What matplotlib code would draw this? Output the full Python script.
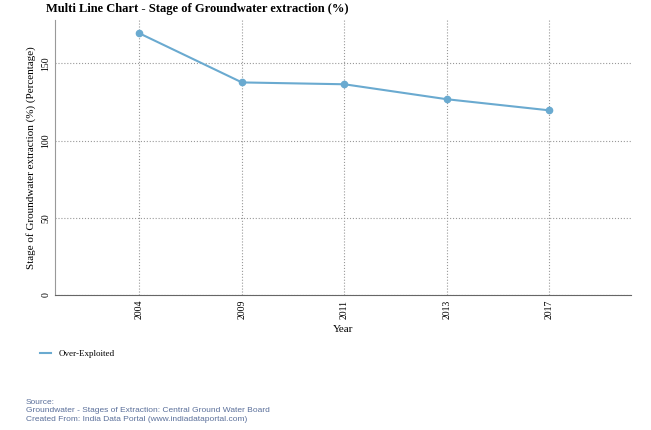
import matplotlib.pyplot as plt
from matplotlib.lines import Line2D

years = ["2004", "2009", "2011", "2013", "2017"]
over_exploited = [169.5, 137.7, 136.5, 126.8, 119.6]
yticks = [0, 50, 100, 150]

plt.rcParams["font.family"] = "Liberation Serif"

fig = plt.figure(figsize=(6.51, 4.30), dpi=100)
ax = fig.add_axes([0.085, 0.314, 0.885, 0.639])
ax.plot(range(len(years)), over_exploited, color="#6aaad0", marker="o", markersize=4.5,
        linewidth=1.5)
ax.set_xlim(-0.82, 4.8)
ax.set_ylim(0, 178)
ax.set_xticks(range(len(years)))
ax.set_xticklabels(years, rotation=90, fontsize=7)
ax.set_yticks(yticks)
ax.set_yticklabels(yticks, rotation=90, fontsize=7, va="center")
ax.grid(True, color="#999999", linestyle=":", linewidth=0.8)
for s in ["top", "right"]:
    ax.spines[s].set_visible(False)
ax.spines["left"].set_color("#999999")
ax.spines["bottom"].set_color("#666666")
ax.tick_params(length=0)
ax.set_xlabel("Year", fontsize=8)
ax.set_ylabel("Stage of Groundwater extraction (%) (Percentage)", fontsize=8)
fig.text(0.07, 0.972, "Multi Line Chart - Stage of Groundwater extraction (%)",
         fontsize=9, fontweight="bold")
handle = Line2D([], [], color="#6aaad0", linewidth=1.5)
ax.legend([handle], ["Over-Exploited"], loc="upper left", bbox_to_anchor=(-0.04, -0.17),
          frameon=False, fontsize=6.5, handlelength=1.2)
fig.text(0.04, 0.022, "Source:\nGroundwater - Stages of Extraction: Central Ground Water Board\n"
         "Created From: India Data Portal (www.indiadataportal.com)",
         fontsize=6, color="#5a6f9a", family="Liberation Sans", linespacing=1.25)
fig.savefig("out.png")
